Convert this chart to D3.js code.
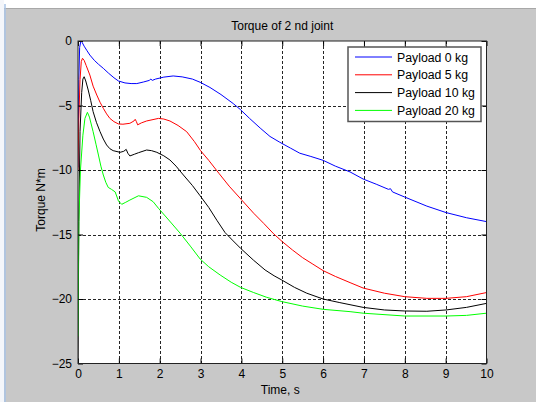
<!DOCTYPE html>
<html>
<head>
<meta charset="utf-8">
<script src="https://cdn.jsdelivr.net/npm/d3@7"></script>
<style>
  body { margin: 0; background: #c8c8c8; }
  svg text { font-family: "Liberation Sans", Arial, sans-serif; fill: #000; }
</style>
</head>
<body>
<div id="chart"></div>
<script>
// DATA: [time s, torque N*m]
let payload0 = [[0,-9.8],[0.02,-3],[0.04,-0.5],[0.07,0],[0.1,-0.1],[0.15,-0.4],[0.22,-0.75],[0.29,-1.09],[0.4,-1.5],[0.5,-1.8],[0.62,-2.12],[0.75,-2.5],[0.88,-2.85],[0.99,-3.1],[1.15,-3.25],[1.3,-3.3],[1.44,-3.3],[1.6,-3.18],[1.75,-3.05],[1.78,-2.95],[1.82,-3.05],[1.9,-2.95],[2.1,-2.8],[2.33,-2.71],[2.55,-2.78],[2.8,-2.95],[2.99,-3.2],[3.23,-3.6],[3.5,-4.15],[3.8,-4.85],[3.97,-5.3],[4.2,-6.0],[4.46,-6.75],[4.7,-7.4],[4.94,-7.85],[5.2,-8.3],[5.43,-8.7],[5.7,-8.95],[6.0,-9.25],[6.3,-9.7],[6.66,-10.15],[6.98,-10.7],[7.3,-11.1],[7.6,-11.5],[7.65,-11.45],[7.7,-11.7],[8.0,-12.1],[8.54,-12.8],[9.01,-13.3],[9.51,-13.7],[10,-14.0]]
let payload5 = [[0,-10],[0.02,-6],[0.05,-3],[0.08,-1.6],[0.11,-1.34],[0.15,-1.5],[0.2,-1.9],[0.29,-2.64],[0.37,-3.5],[0.46,-4.19],[0.54,-4.75],[0.62,-5.22],[0.7,-5.65],[0.78,-6.0],[0.88,-6.25],[0.99,-6.43],[1.1,-6.45],[1.27,-6.38],[1.37,-6.2],[1.40,-6.07],[1.43,-6.25],[1.46,-6.5],[1.55,-6.35],[1.68,-6.2],[1.97,-6.0],[2.1,-6.05],[2.25,-6.2],[2.45,-6.55],[2.66,-7.03],[2.85,-7.8],[3.0,-8.5],[3.2,-9.25],[3.45,-10.26],[3.7,-11.25],[4.0,-12.3],[4.3,-13.35],[4.55,-14.15],[4.79,-14.95],[5.0,-15.55],[5.25,-16.2],[5.5,-16.8],[5.75,-17.3],[6.0,-17.8],[6.3,-18.25],[6.66,-18.73],[6.98,-19.15],[7.5,-19.55],[8.0,-19.82],[8.54,-19.95],[9.01,-19.95],[9.51,-19.82],[10,-19.5]]
let payload10 = [[0,-25],[0.02,-14],[0.05,-7],[0.09,-4],[0.12,-2.95],[0.15,-2.77],[0.19,-3.1],[0.25,-3.8],[0.31,-4.6],[0.37,-5.48],[0.45,-6.3],[0.54,-7.03],[0.62,-7.6],[0.70,-8.06],[0.78,-8.35],[0.86,-8.5],[1.03,-8.63],[1.12,-8.55],[1.18,-8.4],[1.22,-8.7],[1.27,-8.91],[1.38,-8.78],[1.48,-8.66],[1.68,-8.45],[1.8,-8.5],[1.93,-8.63],[2.1,-8.9],[2.25,-9.22],[2.4,-9.7],[2.58,-10.39],[2.8,-11.2],[2.99,-12.0],[3.2,-12.9],[3.4,-13.9],[3.6,-14.85],[3.8,-15.5],[3.98,-16.07],[4.3,-17.0],[4.58,-17.75],[4.8,-18.2],[4.99,-18.53],[5.3,-19.1],[5.6,-19.55],[6.0,-20.0],[6.41,-20.28],[6.98,-20.65],[7.5,-20.85],[8.0,-20.93],[8.54,-20.95],[9.01,-20.85],[9.51,-20.65],[10,-20.34]]
let payload20 = [[0,-22.9],[0.02,-14],[0.06,-10],[0.12,-7.3],[0.17,-6.0],[0.23,-5.53],[0.28,-5.9],[0.37,-7.03],[0.44,-8.0],[0.50,-8.84],[0.56,-9.7],[0.62,-10.39],[0.68,-10.95],[0.74,-11.35],[0.82,-11.5],[0.91,-11.7],[0.99,-12.4],[1.07,-12.66],[1.17,-12.5],[1.27,-12.33],[1.48,-12.0],[1.68,-12.12],[1.84,-12.46],[1.97,-12.97],[2.2,-13.8],[2.5,-14.9],[2.75,-15.9],[2.99,-16.9],[3.2,-17.5],[3.48,-18.14],[3.75,-18.7],[3.98,-19.1],[4.3,-19.5],[4.62,-19.87],[4.99,-20.2],[5.5,-20.55],[6.0,-20.8],[6.66,-20.98],[6.98,-21.1],[8.0,-21.32],[9.01,-21.32],[9.51,-21.27],[10,-21.1]]

let seriesNames = ["Payload 0 kg", "Payload 5 kg", "Payload 10 kg", "Payload 20 kg"]
let seriesColors = ["#0000ff", "#ff0000", "#000000", "#00ff00"]
let xTicks = [0,1,2,3,4,5,6,7,8,9,10]
let yTicks = [0,-5,-10,-15,-20,-25]

let width = 536, height = 402,
    pLeft = 78, pRight = 486.5, pTop = 41, pBottom = 363.5

let svg = d3.select("#chart").append("svg")
    .attr("width", width)
    .attr("height", height)

// window frame bits
svg.append("rect").attr("width", width).attr("height", height).attr("fill", "#c8c8c8")
svg.append("rect").attr("width", width).attr("height", 8).attr("fill", "#ffffff")
svg.append("line").attr("x1", 0).attr("x2", width).attr("y1", 8.5).attr("y2", 8.5).attr("stroke", "#a8a8a8")
svg.append("rect").attr("width", 4).attr("height", height).attr("fill", "#f4f6fa")
svg.append("line").attr("x1", 5).attr("x2", 5).attr("y1", 4).attr("y2", height).attr("stroke", "#a9c3e6").attr("stroke-width", 1.5)

let x = d3.scaleLinear().domain([0, 10]).range([pLeft, pRight])
let y = d3.scaleLinear().domain([-25, 0]).range([pBottom, pTop])

//PLOT AREA
svg.append("rect")
    .attr("x", pLeft).attr("y", pTop)
    .attr("width", pRight - pLeft).attr("height", pBottom - pTop)
    .attr("fill", "#ffffff")

svg.append("clipPath").attr("id", "clip")
    .append("rect")
    .attr("x", pLeft).attr("y", pTop)
    .attr("width", pRight - pLeft).attr("height", pBottom - pTop)

//GRID
let grid = svg.append("g").attr("stroke", "#000").attr("stroke-width", 1).attr("stroke-dasharray", "3,2").attr("opacity", 0.85)
grid.selectAll(".gx").data(xTicks.slice(1, -1)).enter().append("line")
    .attr("x1", d => Math.round(x(d)) + 0.5).attr("x2", d => Math.round(x(d)) + 0.5)
    .attr("y1", pTop).attr("y2", pBottom)
grid.selectAll(".gy").data(yTicks.slice(1, -1)).enter().append("line")
    .attr("y1", d => Math.round(y(d)) + 0.5).attr("y2", d => Math.round(y(d)) + 0.5)
    .attr("x1", pLeft).attr("x2", pRight)

//LINES
let line = d3.line().x(d => x(d[0])).y(d => y(d[1]))
let lines = svg.append("g").attr("clip-path", "url(#clip)")
;[payload0, payload5, payload10, payload20].forEach((s, i) => {
    lines.append("path")
        .attr("d", line(s))
        .attr("fill", "none")
        .attr("stroke", seriesColors[i])
        .attr("stroke-width", 1)
        .attr("stroke-linejoin", "round")
})

//AXES
function styleAxis(g){
    g.select(".domain").remove()
    g.selectAll(".tick line").attr("stroke", "#000")
    g.selectAll("text").attr("font-size", 12).attr("font-family", "Liberation Sans, Arial, sans-serif")
}
svg.append("g").attr("transform", "translate(0," + pBottom + ")")
    .call(d3.axisBottom(x).tickValues(xTicks).tickSizeInner(-5).tickSizeOuter(0).tickPadding(6))
    .call(styleAxis)
svg.append("g").attr("transform", "translate(0," + pTop + ")")
    .call(d3.axisTop(x).tickValues(xTicks).tickSizeInner(-5).tickSizeOuter(0).tickFormat(""))
    .call(styleAxis)
svg.append("g").attr("transform", "translate(" + pLeft + ",0)")
    .call(d3.axisLeft(y).tickValues(yTicks).tickSizeInner(-5).tickSizeOuter(0).tickPadding(6))
    .call(styleAxis)
svg.append("g").attr("transform", "translate(" + pRight + ",0)")
    .call(d3.axisRight(y).tickValues(yTicks).tickSizeInner(-5).tickSizeOuter(0).tickFormat(""))
    .call(styleAxis)

svg.append("rect")
    .attr("x", pLeft).attr("y", pTop)
    .attr("width", pRight - pLeft).attr("height", pBottom - pTop)
    .attr("fill", "none").attr("stroke", "#222").attr("stroke-width", 1)

//TITLES
svg.append("text").attr("x", (pLeft + pRight) / 2).attr("y", 30)
    .attr("text-anchor", "middle").attr("font-size", 12).text("Torque of 2 nd joint")
svg.append("text").attr("x", (pLeft + pRight) / 2 - 2).attr("y", 394)
    .attr("text-anchor", "middle").attr("font-size", 12).text("Time, s")
svg.append("text").attr("transform", "translate(45,200) rotate(-90)")
    .attr("text-anchor", "middle").attr("font-size", 12).text("Torque N*m")

//LEGEND
let lg = svg.append("g")
lg.append("rect").attr("x", 348).attr("y", 47).attr("width", 133).attr("height", 74.5)
    .attr("fill", "#fff").attr("stroke", "#555").attr("stroke-width", 1.5)
seriesNames.forEach((n, i) => {
    let ly = 57 + i * 17.8
    lg.append("line").attr("x1", 355).attr("x2", 392).attr("y1", ly).attr("y2", ly)
        .attr("stroke", seriesColors[i]).attr("stroke-width", 1)
    lg.append("text").attr("x", 397).attr("y", ly + 4.5).attr("font-size", 12.3).text(n)
})
</script>
</body>
</html>
